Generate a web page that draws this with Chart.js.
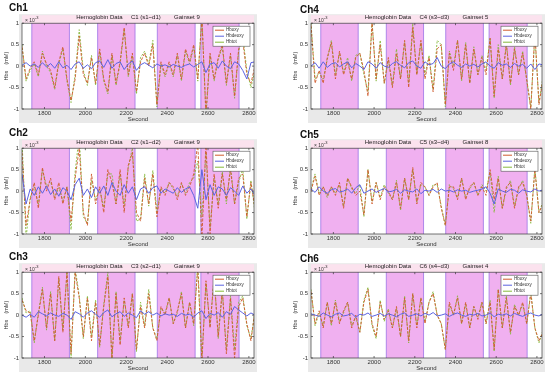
<!DOCTYPE html>
<html>

<head>
    <title>Hemoglobin Data</title>
    <script src="https://cdn.jsdelivr.net/npm/chart.js"></script>
    <style>
        body {
            margin: 0;
            background: #fff;
        }

        #wrap {
            position: relative;
            width: 550px;
            height: 379px;
            overflow: hidden;
            font-family: "Liberation Sans", Arial, sans-serif;
        }

        .panel {
            position: absolute;
            width: 275px;
            height: 126px;
        }

        .panel canvas {
            position: absolute;
            left: 0;
            top: 0;
        }

        .chname {
            position: absolute;
            font-weight: bold;
            font-size: 10px;
            color: #111;
        }
    </style>
</head>

<body>
    <div id="wrap"></div>

    <script>
        // ------------- Data -------------
        const seconds = [1690, 1710, 1730, 1750, 1770, 1790, 1810, 1830, 1850, 1870,
            1890, 1910, 1930, 1950, 1970, 1990, 2010, 2030, 2050, 2070,
            2090, 2110, 2130, 2150, 2170, 2190, 2210, 2230, 2250, 2270,
            2290, 2310, 2330, 2350, 2370, 2390, 2410, 2430, 2450, 2470,
            2490, 2510, 2530, 2550, 2570, 2590, 2610, 2630, 2650, 2670,
            2690, 2710, 2730, 2750, 2770, 2790, 2810, 2830];
        const xTicks = [1800, 2000, 2200, 2400, 2600, 2800];
        const yTicks = [-1, -0.5, 0, 0.5, 1];
        const yTickLabels = ['-1', '-0.5', '0', '0.5', '1'];
        const blockStarts = [1738, 2060, 2352, 2565];
        const blockEnds = [1922, 2243, 2537, 2752];
        const seriesNames = ['Hboxy', 'Hbdeoxy', 'Hbtot'];
        const channelNames = ['Ch1', 'Ch2', 'Ch3', 'Ch4', 'Ch5', 'Ch6'];
        const channelCodes = ['C1 (s1~d1)', 'C2 (s1~d2)', 'C3 (s2~d1)', 'C4 (s3~d3)', 'C5 (s3~d4)', 'C6 (s4~d3)'];
        const gainsets = [9, 9, 9, 5, 8, 4];

        // values in 10^-3 mM
        const hboCh1 = [0.45, -0.3, -0.05, 0.1, -0.2, 0.3, 0.05, -0.1, -0.5, 0.1,
            0.45, -0.3, -0.8, -0.3, 0.7, -0.2, -0.4, 0.2, -0.4, 0.4,
            -0.3, -0.6, 0.3, -0.4, 0.1, 0.9, -0.2, 0.3, -0.6, 0.1,
            0.3, 0.0, 0.5, -0.9, 0.1, -0.2, 0.1, -0.2, 0.3, -0.3,
            0.4, 0.1, 0.5, -0.3, 1.1, -1.1, 0.3, -0.3, 0.2, 0.5,
            -0.4, 0.3, -0.7, 0.4, 0.6, -0.2, -0.4, 0.0];
        const hbrCh1 = [0.02, 0.08, 0.0, 0.05, -0.03, 0.08, -0.02, 0.06, -0.05, 0.1,
            -0.04, 0.02, -0.08, 0.05, 0.1, -0.05, 0.03, -0.06, 0.08, 0.12,
            -0.03, 0.15, -0.05, 0.06, 0.1, -0.08, 0.05, 0.12, -0.1, 0.03,
            0.08, 0.02, -0.04, 0.05, 0.0, 0.03, -0.02, 0.04, 0.0, -0.03,
            0.02, 0.05, -0.02, 0.04, 0.1, -0.15, 0.05, 0.08, -0.05, 0.12,
            0.0, -0.06, 0.1, 0.05, -0.1, -0.3, 0.08, 0.1];
        const hbtCh1 = [0.5, -0.35, -0.1, 0.05, -0.25, 0.35, 0.0, -0.15, -0.55, 0.05,
            0.4, -0.35, -0.85, -0.2, 0.85, -0.1, -0.45, 0.25, -0.45, 0.35,
            -0.35, -0.65, 0.25, -0.45, 0.05, 0.85, -0.25, 0.25, -0.65, 0.2,
            0.35, 0.05, 0.6, -0.95, 0.05, -0.25, 0.05, -0.25, 0.25, -0.35,
            0.35, 0.05, 0.45, -0.35, 1.2, -1.2, 0.25, -0.35, 0.15, 0.45,
            -0.45, 0.25, -0.75, 0.35, 0.7, -0.1, -0.5, -0.1];

        const hboCh2 = [0.9, -0.8, -0.2, 0.2, -0.4, 0.55, 0.0, 0.3, -0.2, 0.2,
            -0.3, 0.1, -0.7, 0.3, 1.0, -0.5, -0.8, 0.4, -0.3, 0.1,
            -0.5, 0.5, 0.2, -0.3, 0.5, -0.5, 0.6, 0.9, -0.5, -0.7,
            0.3, -0.3, 0.4, -0.6, 0.1, -0.1, 0.2, 0.1, -0.2, 0.2,
            -0.1, 0.1, 0.4, 1.1, -1.1, 1.1, -1.0, 0.4, -0.4, 0.4,
            -0.2, 0.5, -0.3, 0.3, 0.4, -0.6, 0.2, -0.4];
        const hbrCh2 = [0.4, -0.3, 0.05, -0.1, 0.1, -0.05, 0.12, -0.08, 0.05, -0.12,
            0.08, 0.0, -0.2, 0.15, 0.3, -0.1, 0.05, -0.15, 0.1, -0.05,
            0.12, -0.1, 0.2, 0.0, -0.1, 0.15, -0.05, 0.1, -0.2, 0.05,
            0.1, -0.05, 0.08, 0.12, -0.05, 0.05, 0.0, -0.05, 0.08, -0.03,
            0.05, 0.1, -0.1, -0.4, 0.5, -0.2, 0.15, -0.1, 0.1, 0.05,
            -0.1, 0.08, 0.0, -0.1, 0.12, -0.05, 0.05, -0.1];
        const hbtCh2 = [1.2, -1.1, -0.15, 0.1, -0.3, 0.5, 0.12, 0.22, -0.15, 0.08,
            -0.22, 0.1, -0.9, 0.45, 1.3, -0.6, -0.75, 0.25, -0.2, 0.05,
            -0.38, 0.4, 0.4, -0.3, 0.4, -0.35, 0.55, 1.0, -0.7, -0.65,
            0.4, -0.35, 0.48, -0.48, 0.05, -0.05, 0.2, 0.05, -0.12, 0.17,
            -0.05, 0.2, 0.3, 0.7, -0.6, 0.9, -0.85, 0.3, -0.3, 0.45,
            -0.3, 0.58, -0.3, 0.2, 0.52, -0.65, 0.25, -0.5];

        const hboCh3 = [0.35, 0.1, 0.05, -0.6, 0.0, 0.6, -0.3, 0.5, -0.6, 0.9,
            -0.4, 1.0, -0.9, 1.0, 0.4, -0.5, 0.4, -0.6, 0.3, -0.7,
            0.2, 0.9, -1.0, 0.5, -0.7, 0.4, -0.3, 0.5, -0.8, 0.2,
            -0.3, 0.5, -0.3, -0.6, 0.2, 0.0, 0.4, -0.2, 0.1, 0.5,
            -0.3, 0.3, -0.2, 1.1, -1.1, 0.8, -0.3, 0.9, -0.5, 0.6,
            -0.9, 0.4, -1.0, 0.2, 0.4, -0.2, -0.6, 0.1];
        const hbrCh3 = [0.0, -0.05, 0.02, -0.05, 0.08, 0.03, -0.02, 0.05, 0.0, -0.03,
            0.04, 0.0, -0.1, 0.08, 0.03, -0.05, 0.05, 0.1, 0.02, -0.05,
            0.06, 0.12, -0.04, 0.03, 0.08, -0.03, 0.05, 0.0, -0.06, 0.1,
            0.02, 0.08, 0.0, 0.05, -0.02, 0.03, 0.0, 0.02, -0.03, 0.04,
            0.0, 0.02, -0.05, 0.05, 0.1, -0.08, 0.04, 0.0, 0.06, -0.05,
            0.08, 0.02, 0.2, 0.12, 0.05, -0.02, 0.05, 0.0];
        const hbtCh3 = [0.4, 0.05, 0.1, -0.65, 0.05, 0.65, -0.35, 0.55, -0.6, 0.85,
            -0.35, 1.0, -1.0, 1.1, 0.45, -0.55, 0.45, -0.5, 0.35, -0.75,
            0.25, 1.0, -1.05, 0.55, -0.6, 0.35, -0.25, 0.5, -0.85, 0.3,
            -0.25, 0.6, -0.3, -0.55, 0.15, 0.05, 0.4, -0.2, 0.05, 0.55,
            -0.3, 0.3, -0.25, 1.2, -1.0, 0.75, -0.25, 0.9, -0.55, 0.55,
            -0.8, 0.45, -0.8, 0.3, 0.45, -0.25, -0.55, 0.1];

        const hboCh4 = [0.95, -0.4, -0.1, -0.4, 0.2, 0.55, -0.3, 0.35, -0.2, 0.1,
            -0.3, 0.2, 0.3, -0.1, -0.7, 1.0, -0.3, 0.5, -0.4, 0.2,
            -0.5, 0.3, -0.3, 0.6, -0.5, 0.9, -0.2, 0.6, -0.3, 0.2,
            -0.6, 0.4, 0.5, -0.9, 0.3, -0.1, 0.6, -0.3, 0.5, -0.4,
            0.4, -0.2, 0.2, -0.2, 0.65, -0.7, 0.4, -0.3, 0.5, -0.4,
            0.4, -0.2, 0.3, -0.3, -1.0, 0.8, -0.9, -0.3];
        const hbrCh4 = [0.0, 0.08, -0.05, 0.1, -0.03, 0.05, 0.08, -0.02, 0.05, 0.1,
            -0.04, 0.06, 0.0, -0.08, 0.1, 0.05, -0.05, 0.08, 0.0, -0.03,
            0.06, 0.1, 0.02, -0.04, 0.08, 0.12, 0.0, -0.05, 0.1, 0.03,
            0.06, 0.2, 0.0, -0.06, 0.05, 0.1, 0.02, -0.03, 0.05, 0.0,
            0.04, -0.02, 0.05, 0.1, 0.0, -0.05, 0.08, 0.02, 0.05, -0.03,
            0.06, 0.0, 0.04, -0.05, 0.05, -0.08, 0.05, 0.03];
        const hbtCh4 = [1.0, -0.3, -0.15, -0.3, 0.15, 0.6, -0.2, 0.3, -0.15, 0.2,
            -0.35, 0.25, 0.3, -0.2, -0.6, 1.05, -0.35, 0.6, -0.4, 0.15,
            -0.45, 0.4, -0.3, 0.55, -0.4, 1.0, -0.2, 0.55, -0.2, 0.25,
            -0.55, 0.6, 0.5, -0.95, 0.35, 0.0, 0.6, -0.35, 0.55, -0.4,
            0.45, -0.2, 0.25, -0.1, 0.65, -0.75, 0.5, -0.3, 0.55, -0.45,
            0.45, -0.2, 0.35, -0.35, -0.95, 0.7, -0.85, -0.25];

        const hboCh5 = [0.0, 0.35, -0.1, 0.1, -0.1, 0.1, -0.1, 0.2, -0.4, 0.3,
            0.1, -0.1, 0.0, -0.55, 0.5, -0.3, 0.2, -0.2, 0.1, 0.0,
            -0.2, 0.2, -0.4, 0.3, -0.2, 0.55, -0.3, 0.2, 0.1, -0.1,
            0.1, 0.2, -0.4, -0.8, 0.1, 0.1, -0.2, 0.3, -0.2, 0.1,
            0.2, -0.1, 0.1, -0.1, 0.5, -0.2, 0.3, -0.4, 0.1, 0.2,
            -0.4, 0.1, 0.2, -0.1, -0.7, 0.5, -0.5, -0.3];
        const hbrCh5 = [0.05, -0.03, 0.1, 0.0, -0.05, 0.03, 0.06, -0.02, 0.0, 0.05,
            -0.05, 0.08, 0.15, -0.05, 0.0, 0.05, -0.03, 0.02, 0.06, -0.02,
            0.0, 0.04, -0.05, 0.03, 0.0, -0.02, 0.05, -0.06, 0.02, 0.0,
            0.04, -0.03, 0.05, 0.0, 0.02, -0.02, 0.03, 0.0, 0.02, -0.03,
            0.0, 0.02, 0.05, 0.1, -0.05, -0.3, 0.05, 0.0, -0.03, 0.04,
            0.02, -0.05, 0.03, 0.0, -0.02, 0.05, 0.0, 0.03];
        const hbtCh5 = [0.05, 0.4, -0.05, 0.1, -0.15, 0.1, -0.05, 0.15, -0.35, 0.3,
            0.05, -0.05, 0.15, -0.6, 0.5, -0.25, 0.2, -0.15, 0.15, -0.05,
            -0.2, 0.25, -0.45, 0.3, -0.2, 0.5, -0.25, 0.15, 0.1, -0.1,
            0.15, 0.15, -0.35, -0.8, 0.15, 0.05, -0.15, 0.3, -0.15, 0.05,
            0.2, -0.1, 0.15, 0.0, 0.45, -0.5, 0.35, -0.4, 0.05, 0.25,
            -0.35, 0.05, 0.25, -0.1, -0.75, 0.55, -0.5, -0.25];

        const hboCh6 = [0.55, -0.2, 0.1, -0.3, 0.3, -0.2, 0.3, -0.2, 0.1, 0.3,
            -0.3, 0.0, -0.4, 0.3, 0.6, -0.2, -0.5, 0.3, -0.1, 0.1,
            -0.3, 0.2, -0.5, 0.4, -0.6, 0.5, -0.3, 0.4, -0.2, 0.3,
            0.5, 0.0, -0.2, -0.8, 0.3, 0.0, 0.4, -0.2, 0.3, -0.3,
            0.2, -0.1, 0.3, -0.2, 0.3, -0.8, 0.6, -0.3, 0.4, -0.4,
            0.2, 0.0, 0.3, -0.2, 0.5, -0.3, -0.6, -0.4];
        const hbrCh6 = [0.03, 0.0, -0.03, 0.05, 0.0, -0.04, 0.02, 0.05, -0.02, 0.0,
            0.04, -0.05, 0.02, 0.0, 0.05, -0.03, 0.0, 0.04, -0.02, 0.03,
            0.0, -0.04, 0.02, 0.05, -0.03, 0.0, 0.03, -0.02, 0.04, 0.0,
            0.06, -0.02, 0.0, 0.03, -0.03, 0.02, 0.05, 0.0, -0.03, 0.02,
            0.0, 0.04, -0.02, 0.0, 0.05, -0.04, 0.02, 0.0, 0.03, -0.02,
            0.04, 0.0, -0.03, 0.02, 0.05, 0.0, -0.02, 0.03];
        const hbtCh6 = [0.6, -0.25, 0.05, -0.25, 0.3, -0.25, 0.35, -0.15, 0.05, 0.3,
            -0.25, -0.05, -0.4, 0.35, 0.65, -0.25, -0.55, 0.35, -0.15, 0.15,
            -0.3, 0.15, -0.5, 0.45, -0.65, 0.5, -0.25, 0.4, -0.15, 0.3,
            0.55, 0.0, -0.2, -0.8, 0.25, 0.0, 0.45, -0.2, 0.25, -0.3,
            0.2, -0.05, 0.3, -0.2, 0.35, -0.85, 0.6, -0.3, 0.45, -0.45,
            0.25, 0.0, 0.25, -0.2, 0.55, -0.3, -0.65, -0.35];

        const hboSeries = [hboCh1, hboCh2, hboCh3, hboCh4, hboCh5, hboCh6];
        const hbrSeries = [hbrCh1, hbrCh2, hbrCh3, hbrCh4, hbrCh5, hbrCh6];
        const hbtSeries = [hbtCh1, hbtCh2, hbtCh3, hbtCh4, hbtCh5, hbtCh6];

        // ------------- Styling -------------
        const FONT = '"Liberation Sans", Arial, sans-serif';
        Chart.defaults.font.family = FONT;
        const hboColor = '#cf5a2c';
        const hbrColor = '#5b63e0';
        const hbtColor = '#86b83a';
        const blockColor = '#f0b0f0';

        const toPoints = vals => seconds.map((s, i) => ({ x: s, y: vals[i] }));

        // background, stimulation blocks, box, ticks and legend
        const panelDecor = {
            id: 'panelDecor',
            beforeDraw(chart) {
                const { ctx, chartArea: a } = chart;
                const x = chart.scales.x;
                ctx.save();
                ctx.fillStyle = '#e9e9e9';
                ctx.fillRect(a.left - 3, a.top - 9, a.right - a.left + 6, a.bottom - a.top + 23);
                ctx.fillStyle = '#fbe2ee';
                ctx.fillRect(a.left, a.top - 8, a.right - a.left, 8);
                ctx.fillStyle = '#fff';
                ctx.fillRect(a.left, a.top, a.right - a.left, a.bottom - a.top);

                blockStarts.forEach((s, i) => {
                    const x0 = x.getPixelForValue(s);
                    const x1 = x.getPixelForValue(blockEnds[i]);
                    ctx.fillStyle = blockColor;
                    ctx.fillRect(x0, a.top, x1 - x0, a.bottom - a.top);
                    ctx.strokeStyle = '#9c74e6';
                    ctx.lineWidth = 0.8;
                    ctx.beginPath();
                    ctx.moveTo(x0, a.top); ctx.lineTo(x0, a.bottom);
                    ctx.moveTo(x1, a.top); ctx.lineTo(x1, a.bottom);
                    ctx.stroke();
                });
                ctx.restore();
            },
            afterDraw(chart) {
                const { ctx, chartArea: a } = chart;
                const x = chart.scales.x, y = chart.scales.y;
                ctx.save();

                // axes box + inward ticks
                ctx.strokeStyle = '#3a3a3a';
                ctx.lineWidth = 0.7;
                ctx.strokeRect(a.left, a.top, a.right - a.left, a.bottom - a.top);
                ctx.beginPath();
                x.ticks.forEach(t => {
                    const px = x.getPixelForValue(t.value);
                    ctx.moveTo(px, a.bottom); ctx.lineTo(px, a.bottom - 2);
                    ctx.moveTo(px, a.top); ctx.lineTo(px, a.top + 2);
                });
                y.ticks.forEach(t => {
                    const py = y.getPixelForValue(t.value);
                    ctx.moveTo(a.left, py); ctx.lineTo(a.left + 2, py);
                    ctx.moveTo(a.right, py); ctx.lineTo(a.right - 2, py);
                });
                ctx.stroke();

                // exponent
                ctx.fillStyle = '#333';
                ctx.textBaseline = 'alphabetic';
                ctx.font = '5px ' + FONT;
                ctx.fillText('\u00d7 10', a.left + 3, a.top - 1.5);
                ctx.font = '4px ' + FONT;
                ctx.fillText('-3', a.left + 13, a.top - 4.5);

                // legend
                const lw = 37, lh = 20;
                const lx = a.right - lw - 4, ly = a.top + 3;
                ctx.fillStyle = '#fff';
                ctx.fillRect(lx, ly, lw, lh);
                ctx.strokeStyle = '#555';
                ctx.lineWidth = 0.6;
                ctx.strokeRect(lx, ly, lw, lh);
                ctx.font = '4.5px ' + FONT;
                ctx.textBaseline = 'middle';
                chart.data.datasets.forEach((ds, i) => {
                    const yy = ly + 4 + i * 6;
                    ctx.strokeStyle = ds.borderColor;
                    ctx.lineWidth = 1;
                    ctx.beginPath();
                    ctx.moveTo(lx + 2, yy); ctx.lineTo(lx + 11, yy);
                    ctx.stroke();
                    ctx.fillStyle = '#333';
                    ctx.fillText(ds.label, lx + 13, yy);
                });
                ctx.restore();
            }
        };

        // ------------- Panels -------------
        const wrap = document.getElementById('wrap');

        channelNames.forEach((name, i) => {
            const col = Math.floor(i / 3);
            const row = i % 3;

            const panel = document.createElement('div');
            panel.className = 'panel';
            panel.style.left = (col * 275) + 'px';
            panel.style.top = Math.round(row * 124.5) + 'px';

            const canvas = document.createElement('canvas');
            canvas.width = 275;
            canvas.height = 126;

            const label = document.createElement('div');
            label.className = 'chname';
            label.textContent = name;
            label.style.left = col ? '25px' : '9px';
            label.style.top = col ? '4px' : '2px';

            panel.append(canvas, label);
            wrap.append(panel);

            new Chart(canvas, {
                type: 'line',
                data: {
                    datasets: [
                        { label: seriesNames[0], data: toPoints(hboSeries[i]), borderColor: hboColor, borderWidth: 0.9, borderDash: [3, 1.5], order: 1, clip: 0 },
                        { label: seriesNames[1], data: toPoints(hbrSeries[i]), borderColor: hbrColor, borderWidth: 1, order: 0, clip: 0 },
                        { label: seriesNames[2], data: toPoints(hbtSeries[i]), borderColor: hbtColor, borderWidth: 0.9, borderDash: [2, 1.5], order: 2, clip: 0 }
                    ]
                },
                options: {
                    responsive: false,
                    animation: false,
                    events: [],
                    layout: {
                        padding: col ? { left: 14, right: 8, top: 0, bottom: 3 } : { left: 0, right: 21, top: 0, bottom: 3 }
                    },
                    elements: {
                        point: { radius: 0 },
                        line: { tension: 0 }
                    },
                    scales: {
                        x: {
                            type: 'linear',
                            min: 1690,
                            max: 2825,
                            grid: { display: false, drawTicks: false },
                            border: { display: false },
                            afterBuildTicks: s => { s.ticks = xTicks.map(v => ({ value: v })); },
                            afterFit: s => { s.height = 14; },
                            ticks: {
                                font: { size: 6 },
                                color: '#333',
                                padding: 1,
                                maxRotation: 0,
                                autoSkip: false,
                                callback: v => String(v)
                            },
                            title: { display: true, text: 'Second', font: { size: 6 }, color: '#333', padding: 0 }
                        },
                        y: {
                            min: -1,
                            max: 1,
                            grid: { display: false, drawTicks: false },
                            border: { display: false },
                            afterBuildTicks: s => { s.ticks = yTicks.map(v => ({ value: v })); },
                            afterFit: s => { s.width = 22; },
                            ticks: {
                                font: { size: 6 },
                                color: '#333',
                                padding: 3,
                                autoSkip: false,
                                callback: v => yTickLabels[yTicks.indexOf(v)]
                            },
                            title: { display: true, text: 'Hbs    (mM)', font: { size: 5.5 }, color: '#333', padding: { top: 3, bottom: 0 } }
                        }
                    },
                    plugins: {
                        legend: { display: false },
                        tooltip: { enabled: false },
                        title: {
                            display: true,
                            text: 'Hemoglobin Data     ' + channelCodes[i] + '        Gainset ' + gainsets[i],
                            fullSize: false,
                            font: { size: 6, weight: 'normal' },
                            color: '#222',
                            padding: { top: 14, bottom: 2 }
                        }
                    }
                },
                plugins: [panelDecor]
            });
        });
    </script>
</body>

</html>
